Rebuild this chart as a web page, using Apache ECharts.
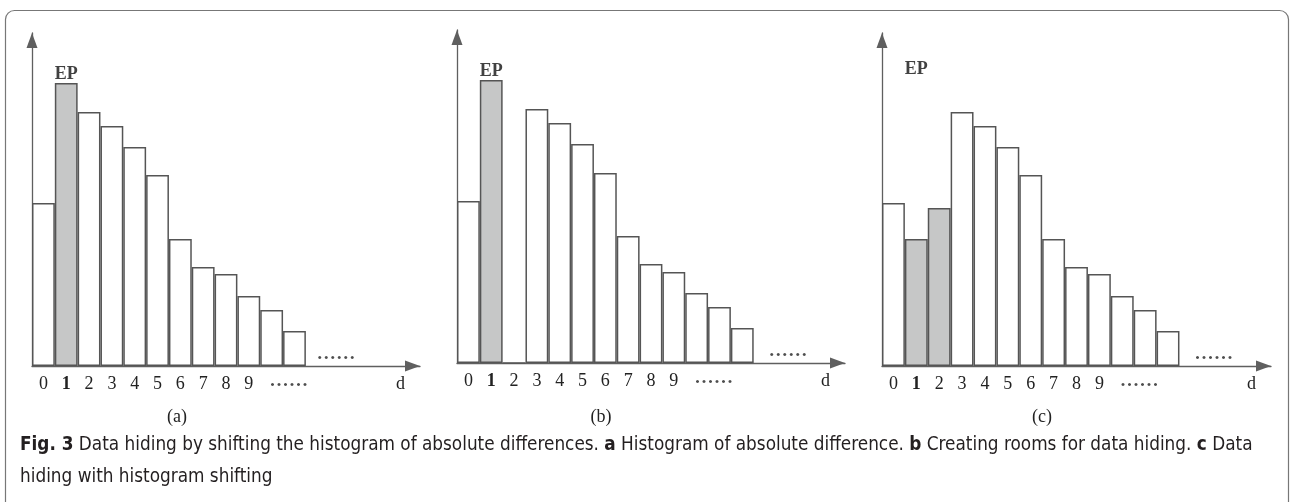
<!DOCTYPE html>
<html>
<head>
<meta charset="utf-8">
<title>Fig. 3 histogram shifting</title>
<script src="https://cdn.jsdelivr.net/npm/echarts@6.0.0/dist/echarts.min.js"></script>
<style>
  html, body { margin: 0; padding: 0; background: #fff; }
  #chart { width: 1291px; height: 502px; }
</style>
</head>
<body>
<div id="chart"></div>
<script>
// datos (altura de cada barra)
const categorias = ['0','1','2','3','4','5','6','7','8','9','10','11','12','13','14','15','16'];
const etiquetasEje = ['0','1','2','3','4','5','6','7','8','9','','','','','','','d'];
const valoresA = [163, 283, 254, 240, 219, 191, 127, 99, 92, 70, 56, 35];
const valoresB = [162, 283, 0, 254, 240, 219, 190, 127, 99, 91, 70, 56, 35];
const valoresC = [163, 127, 158, 254, 240, 219, 191, 127, 99, 92, 70, 56, 35];
const grisesA = [1];
const grisesB = [1];
const grisesC = [1, 2];
const paneles = ['(a)', '(b)', '(c)'];
const alturaEP = [292, 292, 297];
const puntosArriba = [13, 14, 14];

const SERIF = "'Liberation Serif', 'Times New Roman', serif";
const SANS = "'Liberation Sans Narrow', 'DejaVu Sans Condensed', 'Open Sans', sans-serif";
const GRIS = '#c6c7c7';
const BORDE = '#555';
const EJE = '#5f5f5f';

const grids = [
    { left: 32, top: 33, width: 388, height: 333 },
    { left: 457, top: 30, width: 388, height: 333 },
    { left: 882, top: 33, width: 389, height: 333 }
];

const chart = echarts.init(document.getElementById('chart'));

function barras(valores, grises, i) {
    return {
        type: 'bar',
        xAxisIndex: i,
        yAxisIndex: i,
        barWidth: '100%',
        barCategoryGap: 0,
        animation: false,
        data: valores.map((v, k) => ({
            value: v,
            itemStyle: {
                color: grises.includes(k) ? GRIS : '#fff',
                borderColor: BORDE,
                borderWidth: 1.5
            }
        }))
    };
}

function anotaciones(i) {
    const puntos = {
        show: true,
        formatter: '......',
        fontFamily: SERIF,
        fontSize: 26,
        color: '#222',
        verticalAlign: 'bottom'
    };
    return {
        type: 'scatter',
        xAxisIndex: i,
        yAxisIndex: i,
        symbolSize: 0,
        clip: false,
        animation: false,
        silent: true,
        data: [
            {
                value: [1, alturaEP[i]],
                label: {
                    show: true, formatter: 'EP', position: 'inside',
                    fontFamily: SERIF, fontWeight: 'bold', fontSize: 18, color: '#111'
                }
            },
            { value: [puntosArriba[i], 10], label: Object.assign({}, puntos, { position: 'inside', offset: [i === 0 ? -4 : 0, 9] }) },
            { value: [10, 0], label: Object.assign({}, puntos, { position: 'inside', offset: [17, 26] }) }
        ]
    };
}

const flecha = {
    symbol: ['none', 'triangle'],
    symbolSize: [11, 15],
    symbolOffset: [0, -7.5]
};

const ejeX = grids.map((g, i) => ({
    type: 'category',
    gridIndex: i,
    data: categorias,
    axisLine: Object.assign({ lineStyle: { color: EJE, width: 1.3 } }, flecha),
    axisTick: { show: false },
    axisLabel: {
        interval: 0,
        margin: 9,
        color: '#222',
        fontFamily: SERIF,
        fontSize: 18,
        formatter: (v, idx) => {
            const t = etiquetasEje[idx];
            if (t === '1') return '{b|1}';
            if (t === 'd') return '{d|d}';
            return t;
        },
        rich: {
            b: { fontFamily: SERIF, fontSize: 18, fontWeight: 'bold', color: '#222' },
            d: { fontFamily: SERIF, fontSize: 18, color: '#222', padding: [0, 16, 0, 0] }
        }
    },
    splitLine: { show: false }
}));

const ejeY = grids.map((g, i) => ({
    type: 'value',
    gridIndex: i,
    min: 0,
    max: g.height,
    axisLine: Object.assign({ show: true, lineStyle: { color: EJE, width: 1.3 } }, flecha),
    axisTick: { show: false },
    axisLabel: { show: false },
    splitLine: { show: false }
}));

const centrosPanel = [177, 601, 1042];

chart.setOption({
    backgroundColor: '#fff',
    animation: false,
    title: [{
        left: 20,
        top: 429,
        padding: 0,
        text: '{b|Fig. 3} Data hiding by shifting the histogram of absolute differences. {b|a} Histogram of absolute difference. {b|b} Creating rooms for data hiding. {b|c} Data\nhiding with histogram shifting',
        textStyle: {
            fontFamily: SANS,
            fontSize: 18.8,
            fontWeight: 'normal',
            color: '#231f20',
            lineHeight: 32,
            rich: {
                b: { fontFamily: SANS, fontSize: 18.8, fontWeight: 'bold', color: '#231f20', lineHeight: 32 }
            }
        }
    }],
    graphic: [
        {
            type: 'rect',
            silent: true,
            z: -10,
            shape: { x: 5.5, y: 10.5, width: 1283, height: 540, r: 9 },
            style: { fill: 'none', stroke: '#777', lineWidth: 1.2 }
        },
        ...paneles.map((p, i) => ({
            type: 'text',
            silent: true,
            x: centrosPanel[i],
            y: 417,
            style: {
                text: p,
                align: 'center',
                verticalAlign: 'middle',
                fontFamily: SERIF,
                fontSize: 18,
                fill: '#222'
            }
        }))
    ],
    grid: grids,
    xAxis: ejeX,
    yAxis: ejeY,
    series: [
        barras(valoresA, grisesA, 0),
        barras(valoresB, grisesB, 1),
        barras(valoresC, grisesC, 2),
        anotaciones(0),
        anotaciones(1),
        anotaciones(2)
    ]
});

window.addEventListener('resize', () => chart.resize());
</script>
</body>
</html>
